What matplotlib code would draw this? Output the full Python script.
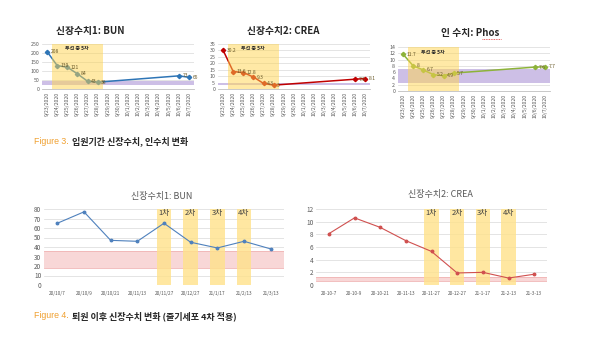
import numpy as np
import matplotlib
matplotlib.use("Agg")
import matplotlib.pyplot as plt

plt.rcParams['font.family'] = ['Noto Sans CJK KR', 'DejaVu Sans']

W, H = 597, 348

# ---------------- data: top charts (admission period) ----------------
top_dates = ["9/23/2020", "9/24/2020", "9/25/2020", "9/26/2020", "9/27/2020",
             "9/28/2020", "9/29/2020", "9/30/2020", "10/1/2020", "10/2/2020",
             "10/3/2020", "10/4/2020", "10/5/2020", "10/6/2020", "10/7/2020"]
nan = np.nan
bun_top = [208, 130, 121, 84, 43, 38, nan, nan, nan, nan, nan, nan, nan, 73, 65]
crea_top = [30.2, 13.6, 12.8, 9.3, 4.3, 3.0, nan, nan, nan, nan, nan, nan, nan, 7.6, 8.1]
phos_top = [11.7, 8.0, 6.7, 5.2, 4.9, 5.7, nan, nan, nan, nan, nan, nan, nan, 7.6, 7.7]
bun_top_range = (20, 45)
crea_top_range = (3, 5)
phos_top_range = (2.5, 7.0)
dialysis_label = "투석 중 5차"

# ---------------- data: bottom charts (after discharge) ----------------
bun_dates = ["20/10/7", "20/10/9", "20/10/21", "20/11/13", "20/11/27",
             "20/12/27", "21/1/17", "21/2/13", "21/3/13"]
crea_dates = ["20-10-7", "20-10-9", "20-10-21", "20-11-13", "20-11-27",
              "20-12-27", "21-1-17", "21-2-13", "21-3-13"]
bun_after = [65, 77, 47, 46, 65, 45, 39, 46, 38]
crea_after = [8.1, 10.6, 9.1, 7.0, 5.3, 1.9, 2.0, 1.1, 1.7]
stem_idx = [4, 5, 6, 7]
stem_labels = ["1차", "2차", "3차", "4차"]
bun_after_range = (18, 36)
crea_after_range = (0.7, 1.3)

fig = plt.figure(figsize=(W / 100, H / 100), dpi=100)
fig.patch.set_facecolor('white')


def px_axes(l, t, r, b):
    return fig.add_axes([l / W, 1 - b / H, (r - l) / W, (b - t) / H])


def style_axes(ax, ymax, ystep, tick_fs):
    ax.set_ylim(0, ymax)
    ax.set_yticks(np.arange(0, ymax + ystep / 2, ystep))
    for s in ['top', 'right', 'left']:
        ax.spines[s].set_visible(False)
    ax.spines['bottom'].set_color('#BFBFBF')
    ax.spines['bottom'].set_linewidth(0.6)
    ax.grid(axis='y', color='#D9D9D9', linewidth=0.5)
    ax.set_axisbelow(True)
    ax.tick_params(axis='both', length=0, labelsize=tick_fs, colors='#595959', pad=2)


def top_chart(ax, values, ymax, ystep, rng, color, marker, title, tx, ty, lab_y):
    x = np.arange(len(top_dates))
    v = np.array(values, dtype=float)
    m = ~np.isnan(v)
    ax.set_xlim(-0.5, len(top_dates) - 0.5)
    style_axes(ax, ymax, ystep, 3.8)
    ax.set_xticks(x)
    ax.set_xticklabels(top_dates, rotation=90, fontsize=3.7)
    ax.axhspan(rng[0], rng[1], color='#CDBFE6', zorder=1, lw=0)
    ax.plot(x[m], v[m], color=color, lw=1.1, marker=marker, ms=2.2, zorder=3)
    ax.axvspan(0.5, 5.5, ymin=0, ymax=1, color='#FFD54F', alpha=0.5, zorder=4, lw=0)
    ax.text(2.9, lab_y, dialysis_label, fontsize=3.6, fontweight='bold',
            ha='center', va='center', color='#262626', zorder=5)
    for xi, vi in zip(x[m], v[m]):
        s = f"{vi:g}"
        ax.text(xi + 0.35, vi, s, fontsize=3.6, color='#6B5B2A',
                ha='left', va='center', zorder=5)
    fig.text(tx / W, 1 - ty / H, title, fontsize=7, fontweight='bold',
             ha='center', va='center', color='#262626')


ax1 = px_axes(42, 44, 194, 89)
top_chart(ax1, bun_top, 250, 50, bun_top_range, '#2E75B6', 'D',
          "신장수치1: BUN", 90, 31, 225)
ax2 = px_axes(218, 44, 370, 89)
top_chart(ax2, crea_top, 35, 5, crea_top_range, '#C00000', 'D',
          "신장수치2: CREA", 283, 31, 31.5)
ax3 = px_axes(398, 47, 550, 91)
top_chart(ax3, phos_top, 14, 2, phos_top_range, '#8DB33A', 'D',
          "인 수치: Phos", 470, 33, 12.3)
# spell-check underline under "Phos"
fig.lines.append(plt.Line2D([482 / W, 501 / W], [1 - 39 / H, 1 - 39 / H],
                            transform=fig.transFigure, color='#E03030',
                            lw=0.6, ls=(0, (1, 1))))


def bottom_chart(ax, dates, values, ymax, ystep, rng, color, title, tx, ty, lab_y):
    x = np.arange(len(dates))
    ax.set_xlim(-0.5, len(dates) - 0.5)
    style_axes(ax, ymax, ystep, 4.6)
    ax.spines['bottom'].set_visible(False)
    ax.set_xticks(x)
    ax.set_xticklabels(dates, fontsize=3.4)
    ax.tick_params(axis='x', pad=4)
    ax.axhspan(rng[0], rng[1], color='#F8D7D7', zorder=1, lw=0)
    ax.axhline(rng[0], color='#F0B4B4', lw=0.6, zorder=1)
    ax.axhline(rng[1], color='#F0B4B4', lw=0.6, zorder=1)
    ax.bar(stem_idx, [ymax] * len(stem_idx), width=0.55, color='#FFE28A',
           alpha=0.8, zorder=2, lw=0)
    for xi, lab in zip(stem_idx, stem_labels):
        ax.text(xi, lab_y, lab, fontsize=5.5, ha='center', va='center',
                color='#404040', zorder=5)
    ax.plot(x, values, color=color, lw=0.8, marker='o', ms=1.8, zorder=3)
    fig.text(tx / W, 1 - ty / H, title, fontsize=6.5, ha='center', va='center',
             color='#595959')


ax4 = px_axes(44, 209, 284, 285)
bottom_chart(ax4, bun_dates, bun_after, 80, 10, bun_after_range, '#4F81BD',
             "신장수치1: BUN", 162, 197, 75.5)
ax5 = px_axes(316, 209, 547, 285)
bottom_chart(ax5, crea_dates, crea_after, 12, 2, crea_after_range, '#D0504F',
             "신장수치2: CREA", 440, 195, 11.3)

# captions
fig.text(34 / W, 1 - 141 / H, "Figure 3.", fontsize=6.3, color='#F0A030',
         family=['Liberation Sans', 'DejaVu Sans'], ha='left', va='center')
fig.text(72 / W, 1 - 141 / H, "입원기간 신장수치, 인수치 변화", fontsize=6.5,
         fontweight='bold', color='#262626', ha='left', va='center')
fig.text(34 / W, 1 - 316 / H, "Figure 4.", fontsize=6.3, color='#F0A030',
         family=['Liberation Sans', 'DejaVu Sans'], ha='left', va='center')
fig.text(72 / W, 1 - 316 / H, "퇴원 이후 신장수치 변화 (줄기세포 4차 적용)", fontsize=6.5,
         fontweight='bold', color='#262626', ha='left', va='center')

fig.savefig("out.png", dpi=100, facecolor='white')
